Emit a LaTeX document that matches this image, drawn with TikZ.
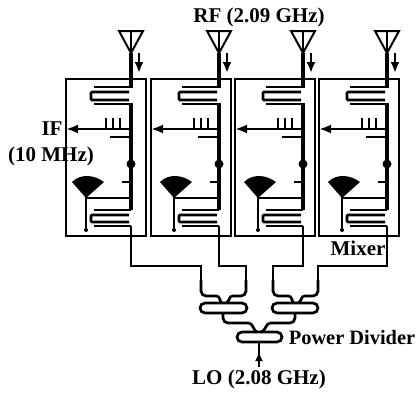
\documentclass[tikz,border=0pt]{standalone}
\usepackage{fontspec}
\setmainfont{Liberation Serif}
\usetikzlibrary{arrows.meta}
\tikzset{
	rfarrow/.style={line width=2.2pt, -{Latex[length=11pt,width=9pt]}},
	feedline/.style={line width=3.3pt},
	stubline/.style={line width=2.7pt},
	thinline/.style={line width=1.6pt},
	routeline/.style={line width=2.2pt},
	label/.style={font=\fontsize{21}{23}\selectfont\bfseries, inner sep=0pt}
}
\def\mixerunit(#1:#2){
	\begin{scope}[xshift=#1pt]
		\draw[line width=1.2pt] (#2, 79) rectangle ({#2+80}, 236);
		\draw[line width=2pt] (119, 31) -- (143, 31) -- (131, 53) -- cycle;
		\draw[line width=2pt] (131, 31) -- (131, 53);
		\draw[rfarrow] (139, 53) -- (139, 73);
		\draw[feedline] (131, 53) -- (131, 88);
		\draw[stubline] (94, 87) -- (131, 87);
		\draw[stubline, rounded corners=1pt] (129, 92) -- (91, 92) -- (91, 100) -- (129, 100);
		\draw[feedline] (131, 103) -- (131, 210);
		\draw[stubline] (94, 104) -- (131, 104);
		\draw[stubline, -{Latex[length=12pt,width=9pt]}] (131, 129) -- (#2, 129);
		\draw[stubline] (106, 129) -- (106, 118);
		\draw[stubline] (113, 129) -- (113, 118);
		\draw[stubline] (120, 129) -- (120, 118);
		\draw[stubline] (110, 137) -- (131, 137);
		\fill (131, 164) circle (4.5);
		\draw[stubline] (122, 182) -- (131, 182);
		\fill (86, 198) -- (72, 182) .. controls (80, 174) and (93, 174) .. (104, 182) -- cycle;
		\draw[thinline] (86, 230) -- (86, 198) -- (131, 198);
		\fill (86, 230) circle (2);
		\draw[stubline] (94, 210) -- (131, 210);
		\draw[stubline, rounded corners=1pt] (129, 215) -- (91, 215) -- (91, 222) -- (129, 222);
		\draw[stubline] (94, 226) -- (131, 226);
	\end{scope}
}
\begin{document}
\begin{tikzpicture}[x=1pt, y=-1pt]
	\useasboundingbox (0, 0) rectangle (419, 392);
	%%%%% mixers %%%%%
	\mixerunit(0:66)
	\mixerunit(88:63)
	\mixerunit(172:63)
	\mixerunit(256:63)
	%%%%% lines down to the dividers %%%%%
	\draw[routeline] (131, 226) -- (131, 266) -- (201, 266) -- (201, 290);
	\draw[routeline] (219, 226) -- (219, 266) -- (246, 266) -- (246, 290);
	\draw[routeline] (303, 226) -- (303, 266) -- (273, 266) -- (273, 290);
	\draw[routeline] (387, 226) -- (387, 266) -- (318, 266) -- (318, 290);
	%%%%% dividers %%%%%
	\draw[stubline, rounded corners=5pt] (201, 280) -- (201, 296) -- (217, 296);
	\draw[stubline] (217, 296) .. controls (220, 296) and (220, 303) .. (222, 303);
	\draw[stubline, rounded corners=5pt] (246, 280) -- (246, 296) -- (232, 296);
	\draw[stubline] (232, 296) .. controls (229, 296) and (229, 303) .. (226, 303);
	\draw[stubline, rounded corners=5pt] (273, 280) -- (273, 296) -- (289, 296);
	\draw[stubline] (289, 296) .. controls (292, 296) and (292, 303) .. (294, 303);
	\draw[stubline, rounded corners=5pt] (318, 280) -- (318, 296) -- (304, 296);
	\draw[stubline] (304, 296) .. controls (301, 296) and (301, 303) .. (298, 303);
	\draw[stubline, rounded corners=5pt] (200, 303) rectangle (247, 313);
	\draw[stubline, rounded corners=5pt] (272, 303) rectangle (318, 313);
	\draw[stubline, rounded corners=5pt] (223, 313) -- (223, 323) -- (249, 323);
	\draw[stubline] (249, 323) .. controls (253, 323) and (254, 332) .. (257, 332);
	\draw[stubline, rounded corners=5pt] (295, 313) -- (295, 323) -- (270, 323);
	\draw[stubline] (270, 323) .. controls (266, 323) and (265, 332) .. (261, 332);
	\draw[stubline, rounded corners=5pt] (237, 332) rectangle (282, 342);
	\draw[line width=2.2pt] (259, 367) -- (259, 342);
	\draw[rfarrow, -{Latex[length=9pt,width=8pt]}] (259, 362) -- (259, 352);
	%%%%% text %%%%%
	\node[label] (rflabel) at (259, 17) {RF (2.09 GHz)};
	\node[label] (iflabel) at (52, 129) {IF};
	\node[label] (ifreq) at (51, 156) {(10 MHz)};
	\node[label] (mixerlabel) at (358, 248) {Mixer};
	\node[label, font=\fontsize{20.4}{23}\selectfont\bfseries] (dividerlabel) at (352, 338) {Power Divider};
	\node[label] (lolabel) at (259, 379) {LO (2.08 GHz)};
\end{tikzpicture}
\end{document}
